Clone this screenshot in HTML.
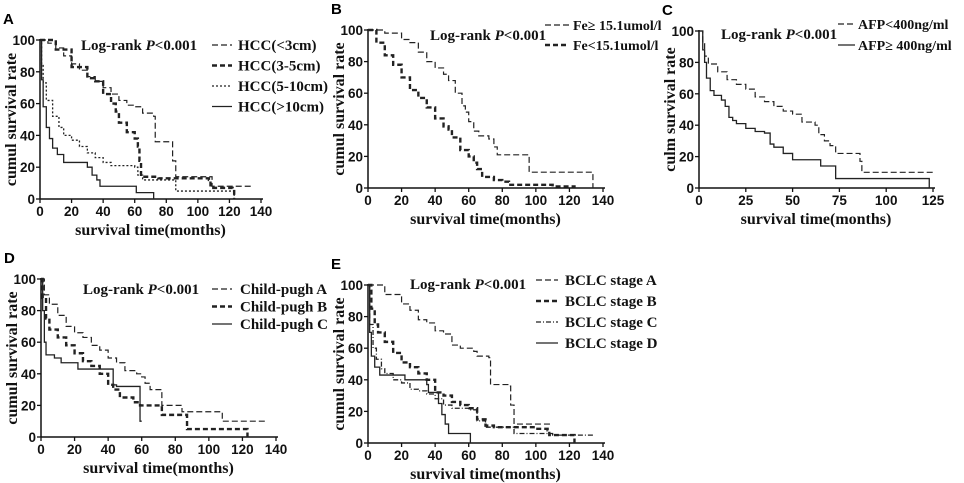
<!DOCTYPE html>
<html><head><meta charset="utf-8">
<style>
html,body{margin:0;padding:0;background:#fff;}
svg{display:block;}
.tick{font-family:"Liberation Sans",sans-serif;font-weight:bold;font-size:13.5px;fill:#111;}
.lab{font-family:"Liberation Serif",serif;font-weight:bold;font-size:16px;fill:#111;}
.leg{font-family:"Liberation Serif",serif;font-weight:bold;fill:#111;}
.lr{font-family:"Liberation Serif",serif;font-weight:bold;font-size:15px;fill:#111;}
.ttl{font-family:"Liberation Sans",sans-serif;font-weight:bold;font-size:15px;fill:#000;}
</style></head>
<body>
<svg id="fig" width="964" height="483" viewBox="0 0 964 483"></svg>
<script>
// ---- data ----
const A_lt3 = [[0,100],[5,98],[10,95],[15,90],[20,85],[25,81],[30,77],[35,74],[40,70],[45,66],[50,62],[55,59],[60,58],[65,54],[72,52],[73,36],[83,36],[84,24],[86,14],[108,14],[109,8],[123,8],[134,7]];
const A_3to5 = [[0,100],[10,94],[20,83],[30,76],[35,74],[40,66],[45,60],[48,55],[50,48],[55,42],[60,38],[62,33],[63,24],[64,14],[75,13],[107,12],[108,7],[122,5],[123,0]];
const A_5to10 = [[0,100],[1,85],[2,73],[4,62],[8,52],[12,45],[15,40],[20,37],[25,33],[30,29],[35,26],[40,23],[45,21],[60,20],[62,15],[65,12],[75,12],[86,5],[122,5],[123,0]];
const A_gt10 = [[0,100],[1,75],[2,58],[4,45],[6,38],[8,32],[11,28],[15,23],[30,20],[33,15],[36,12],[38,8],[60,8],[61,4],[72,4],[72,0]];
const B_high = [[0,100],[10,98],[20,94],[25,92],[30,86],[35,80],[40,76],[45,72],[48,68],[52,60],[56,52],[58,48],[60,42],[63,36],[66,33],[72,31],[75,26],[77,21],[96,21],[96,10],[134,10],[134,0]];
const B_low = [[0,100],[5,92],[10,84],[15,78],[20,70],[25,62],[30,57],[35,51],[40,44],[45,39],[48,37],[50,32],[55,24],[60,20],[63,16],[65,12],[68,7],[75,5],[80,4],[84,2],[100,2],[110,1],[123,0]];
const C_low = [[0,100],[2,92],[3,84],[5,79],[10,74],[15,69],[20,66],[25,63],[30,58],[35,55],[40,52],[45,49],[50,47],[55,42],[62,40],[64,34],[67,30],[70,27],[73,22],[84,22],[86,17],[87,10],[125,10]];
const C_high = [[0,100],[2,88],[3,80],[4,70],[6,62],[8,59],[12,56],[14,52],[16,45],[18,43],[20,41],[25,38],[30,36],[35,35],[38,28],[40,26],[45,22],[50,18],[65,18],[65,14],[73,14],[73,6],[123,6],[123,0]];
const D_a = [[0,100],[2,90],[5,84],[10,77],[15,70],[20,66],[25,63],[30,58],[35,55],[40,50],[45,47],[50,42],[57,40],[60,38],[62,34],[65,30],[72,26],[72,20],[84,20],[84,16],[107,16],[108,10],[134,10]];
const D_b = [[0,100],[1,88],[3,75],[5,68],[10,63],[15,58],[20,53],[25,48],[30,45],[35,40],[40,33],[43,30],[47,25],[55,22],[59,20],[72,20],[72,14],[85,14],[87,5],[123,5],[123,0]];
const D_c = [[0,100],[1,80],[2,60],[3,52],[8,50],[12,47],[22,43],[43,43],[43,33],[45,32],[58,32],[59,20],[59,10],[60,10]];
const E_a = [[0,100],[5,100],[10,94],[20,88],[25,84],[30,78],[35,76],[40,71],[45,69],[50,62],[55,60],[63,58],[65,55],[72,54],[73,37],[84,36],[85,24],[87,12],[110,12]];
const E_b = [[0,100],[2,85],[4,75],[6,70],[10,64],[15,57],[20,51],[25,48],[30,44],[35,40],[40,32],[45,30],[50,26],[55,24],[60,22],[65,15],[70,11],[75,10],[100,9],[107,8],[108,5],[122,5],[123,0]];
const E_c = [[0,100],[1,75],[3,60],[5,53],[8,47],[10,44],[15,40],[20,38],[25,34],[30,33],[35,31],[40,28],[45,24],[50,22],[60,21],[65,14],[70,10],[87,6],[110,5],[134,6]];
const E_d = [[0,100],[1,70],[2,55],[4,48],[7,43],[22,43],[22,40],[35,37],[36,32],[42,25],[44,18],[46,12],[48,6],[61,6],[61,0]];
const yTicks = [0,20,40,60,80,100];
const xTicks140 = [0,20,40,60,80,100,120,140];
const xTicks125 = [0,25,50,75,100,125];

const STY = {
  dash:{w:1.2,d:"6,3"}, bold:{w:2.4,d:"5,3"}, dot:{w:1.3,d:"2,2"}, solid:{w:1.3,d:""}, dashdot:{w:1.3,d:"5,2,1,2"}
};
const svg = document.getElementById('fig');
const NS = 'http://www.w3.org/2000/svg';
function mk(tag, attrs, parent){const e=document.createElementNS(NS,tag);for(const k in attrs)e.setAttribute(k,attrs[k]);(parent||svg).appendChild(e);return e;}

function panel(p){
  const g = mk('g',{});
  
  
  const sx = v => p.x0 + (v / p.xmax) * (p.x1 - p.x0);
  const sy = v => p.y0 + (100 - v) / 100 * (p.yb - p.y0);
  const t = mk('text',{x:p.x0-37,y:p.y0-16,class:'ttl'},g); t.textContent=p.letter;
  
  
  mk('line',{x1:p.x0,y1:p.y0-1,x2:p.x0,y2:p.yb,stroke:'#111','stroke-width':1.5},g);
  mk('line',{x1:p.x0,y1:p.yb,x2:p.x1+2,y2:p.yb,stroke:'#111','stroke-width':1.5},g);
  yTicks.forEach(v=>{
    mk('line',{x1:p.x0-4,y1:sy(v),x2:p.x0,y2:sy(v),stroke:'#111','stroke-width':1.3},g);
    const tx=mk('text',{x:p.x0-5,y:sy(v)+5,'text-anchor':'end',class:'tick'},g); tx.textContent=v;
    
    
  });
  p.xt.forEach(v=>{
    mk('line',{x1:sx(v),y1:p.yb,x2:sx(v),y2:p.yb+4,stroke:'#111','stroke-width':1.3},g);
    const tx=mk('text',{x:sx(v),y:p.yb+17,'text-anchor':'middle',class:'tick'},g); tx.textContent=v;
    
    
  });
  const xt=mk('text',{x:(p.x0+p.x1)/2,y:p.yb+36,'text-anchor':'middle',class:'lab'},g); xt.textContent=p.xlab;
  
  
  const cy=(p.y0+p.yb)/2;
  const tx0=p.x0-24;
  const yt=mk('text',{x:tx0,y:cy,'text-anchor':'middle',class:'lab',transform:`rotate(-90 ${tx0} ${cy})`},g); yt.textContent=p.ylab;
  
  
  const lr=mk('text',{x:p.lr[0],y:p.lr[1],class:'lr'},g);
  lr.innerHTML='Log-rank <tspan font-style="italic">P</tspan>&lt;0.001';
  
  
  p.series.forEach((s,i)=>{
    const st=STY[s.style];
    let d='M'+sx(s.data[0][0])+','+sy(s.data[0][1]);
    for(let k=1;k<s.data.length;k++){d+=' H'+sx(s.data[k][0])+' V'+sy(s.data[k][1]);}
    const path=mk('path',{d:d,fill:'none',stroke:'#222','stroke-width':st.w,'stroke-dasharray':st.d},g);
    
    
    const ly=p.leg[2]+i*p.leg[3];
    const ll=mk('line',{x1:p.leg[0],y1:ly-5,x2:p.leg[0]+p.leg[5],y2:ly-5,stroke:'#222','stroke-width':st.w,'stroke-dasharray':st.d},g);
    
    
    const lt=mk('text',{x:p.leg[1],y:ly,class:'leg','font-size':p.leg[4]},g); lt.textContent=s.label;
    
    
  });
}

panel({letter:'A',x0:40,x1:261,y0:40,yb:199,xmax:140,xt:xTicks140,xlab:'survival time(months)',ylab:'cumul survival rate',lr:[81,50],leg:[212,238,50,20.5,15,20],
 series:[{name:'lt3',label:'HCC(<3cm)',style:'dash',data:A_lt3},{name:'3to5',label:'HCC(3-5cm)',style:'bold',data:A_3to5},{name:'5to10',label:'HCC(5-10cm)',style:'dot',data:A_5to10},{name:'gt10',label:'HCC(>10cm)',style:'solid',data:A_gt10}]});
panel({letter:'B',x0:368,x1:603,y0:30,yb:188,xmax:140,xt:xTicks140,xlab:'survival time(months)',ylab:'cumul survival rate',lr:[430,40],leg:[545,573,30,20,14,24],
 series:[{name:'fe-high',label:'Fe\u2265 15.1umol/l',style:'dash',data:B_high},{name:'fe-low',label:'Fe<15.1umol/l',style:'bold',data:B_low}]});
panel({letter:'C',x0:699,x1:933,y0:31,yb:188,xmax:125,xt:xTicks125,xlab:'survival time(months)',ylab:'culm survival rate',lr:[721,39],leg:[838,858,29,21,14,17],
 series:[{name:'afp-low',label:'AFP<400ng/ml',style:'dash',data:C_low},{name:'afp-high',label:'AFP\u2265 400ng/ml',style:'solid',data:C_high}]});
panel({letter:'D',x0:41,x1:276,y0:279,yb:437,xmax:140,xt:xTicks140,xlab:'survival time(months)',ylab:'cumul survival rate',lr:[83,294],leg:[212,240,294,17.5,15,20],
 series:[{name:'child-a',label:'Child-pugh A',style:'dash',data:D_a},{name:'child-b',label:'Child-pugh B',style:'bold',data:D_b},{name:'child-c',label:'Child-pugh C',style:'solid',data:D_c}]});
panel({letter:'E',x0:368,x1:603,y0:285,yb:443,xmax:140,xt:xTicks140,xlab:'survival  time(months)',ylab:'cumul survival rate',lr:[410,289],leg:[536,565,285,21,15,22],
 series:[{name:'bclc-a',label:'BCLC stage A',style:'dash',data:E_a},{name:'bclc-b',label:'BCLC stage B',style:'bold',data:E_b},{name:'bclc-c',label:'BCLC stage C',style:'dashdot',data:E_c},{name:'bclc-d',label:'BCLC stage D',style:'solid',data:E_d}]});
</script>
</body></html>
